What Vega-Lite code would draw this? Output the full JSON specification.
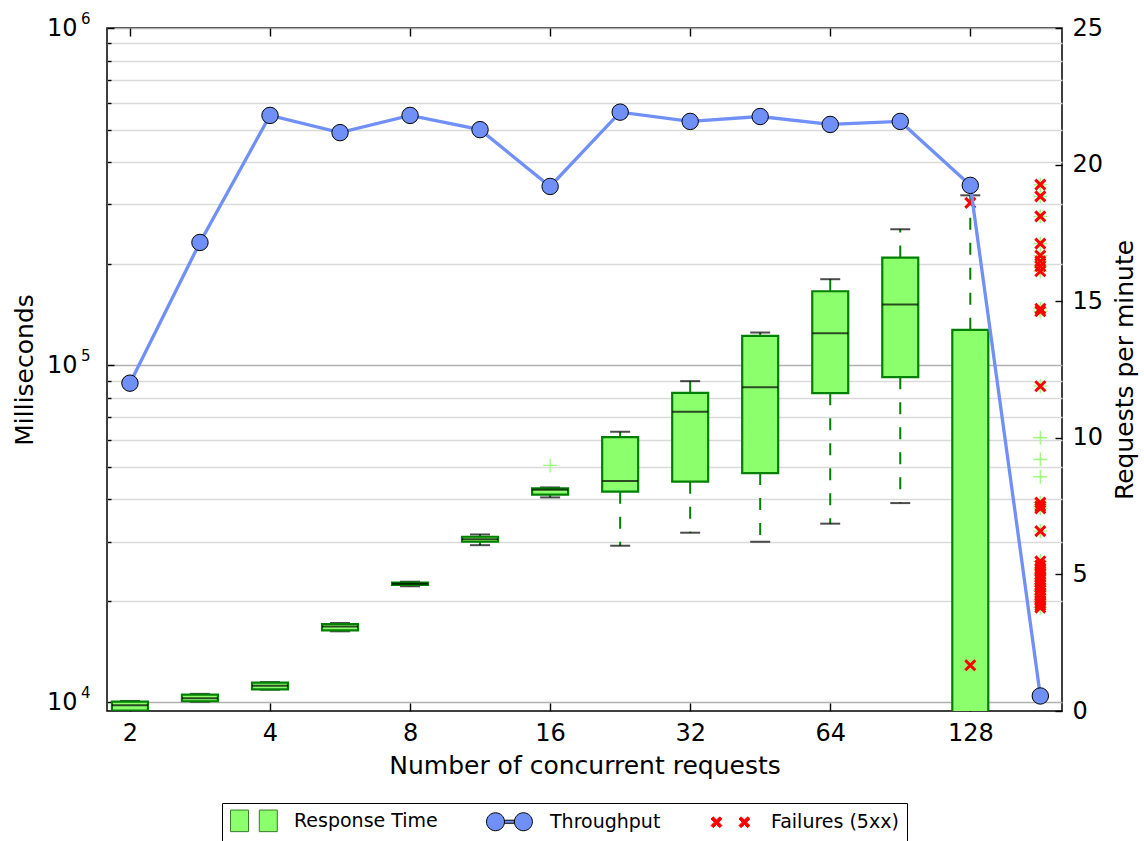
{
  "$schema": "https://vega.github.io/schema/vega-lite/v6.json",
  "width": 955,
  "height": 683,
  "autosize": {"type": "none"},
  "padding": {"left": 107, "top": 28, "right": 82, "bottom": 130},
  "config": {
    "font": "DejaVu Sans",
    "view": {"stroke": "black", "strokeWidth": 1.5},
    "axis": {"domain": false, "labelColor": "black", "titleColor": "black", "titleFontWeight": "normal", "tickColor": "black", "tickWidth": 1.4, "labelFontSize": 24, "titleFontSize": 25, "labelFlush": false, "labelOverlap": false}
  },
  "datasets": {
    "boxes": [
      {"n": 2, "lo": 9300, "q1": 9450, "med": 9800, "q3": 10050, "hi": 10100},
      {"n": 2.828, "lo": 10050, "q1": 10080, "med": 10290, "q3": 10550, "hi": 10600},
      {"n": 4, "lo": 10910, "q1": 10935, "med": 11214, "q3": 11446, "hi": 11490},
      {"n": 5.657, "lo": 16250, "q1": 16360, "med": 16779, "q3": 17079, "hi": 17200},
      {"n": 8, "lo": 22100, "q1": 22320, "med": 22495, "q3": 22650, "hi": 22800},
      {"n": 11.31, "lo": 29260, "q1": 29950, "med": 30490, "q3": 30990, "hi": 31480},
      {"n": 16, "lo": 40540, "q1": 41300, "med": 42700, "q3": 43110, "hi": 43400},
      {"n": 22.63, "lo": 29150, "q1": 42150, "med": 45320, "q3": 61180, "hi": 63480},
      {"n": 32, "lo": 31860, "q1": 45130, "med": 72770, "q3": 82830, "hi": 89680},
      {"n": 45.25, "lo": 29950, "q1": 47870, "med": 86060, "q3": 122200, "hi": 125000},
      {"n": 64, "lo": 33890, "q1": 82600, "med": 124400, "q3": 165700, "hi": 179900},
      {"n": 90.51, "lo": 39000, "q1": 92130, "med": 151300, "q3": 208500, "hi": 253000},
      {"n": 128, "lo": 3000, "q1": 5000, "med": 8000, "q3": 127300, "hi": 319000}
    ],
    "outliers": [
      {"n": 16, "ms": 50430},
      {"n": 181.02, "ms": 343200}, {"n": 181.02, "ms": 316800}, {"n": 181.02, "ms": 276400},
      {"n": 181.02, "ms": 229400}, {"n": 181.02, "ms": 211400}, {"n": 181.02, "ms": 203300},
      {"n": 181.02, "ms": 196500}, {"n": 181.02, "ms": 190000}, {"n": 181.02, "ms": 146980},
      {"n": 181.02, "ms": 144500}, {"n": 181.02, "ms": 86650}, {"n": 181.02, "ms": 60930},
      {"n": 181.02, "ms": 52530}, {"n": 181.02, "ms": 46680}, {"n": 181.02, "ms": 39110},
      {"n": 181.02, "ms": 38210}, {"n": 181.02, "ms": 37620}, {"n": 181.02, "ms": 32210},
      {"n": 181.02, "ms": 26200}, {"n": 181.02, "ms": 25000}, {"n": 181.02, "ms": 24000},
      {"n": 181.02, "ms": 23100}, {"n": 181.02, "ms": 22300}, {"n": 181.02, "ms": 21500},
      {"n": 181.02, "ms": 20800}, {"n": 181.02, "ms": 20000}, {"n": 181.02, "ms": 19100}
    ],
    "failures": [
      {"n": 128, "ms": 303000}, {"n": 128, "ms": 12890},
      {"n": 181.02, "ms": 343200}, {"n": 181.02, "ms": 316800}, {"n": 181.02, "ms": 276400},
      {"n": 181.02, "ms": 229400}, {"n": 181.02, "ms": 211400}, {"n": 181.02, "ms": 203300},
      {"n": 181.02, "ms": 196500}, {"n": 181.02, "ms": 190000}, {"n": 181.02, "ms": 146980},
      {"n": 181.02, "ms": 144500}, {"n": 181.02, "ms": 86650}, {"n": 181.02, "ms": 39110},
      {"n": 181.02, "ms": 38210}, {"n": 181.02, "ms": 37620}, {"n": 181.02, "ms": 32210},
      {"n": 181.02, "ms": 26200}, {"n": 181.02, "ms": 25500}, {"n": 181.02, "ms": 25000},
      {"n": 181.02, "ms": 24500}, {"n": 181.02, "ms": 24000}, {"n": 181.02, "ms": 23500},
      {"n": 181.02, "ms": 23100}, {"n": 181.02, "ms": 22700}, {"n": 181.02, "ms": 22300},
      {"n": 181.02, "ms": 21900}, {"n": 181.02, "ms": 21500}, {"n": 181.02, "ms": 21100},
      {"n": 181.02, "ms": 20800}, {"n": 181.02, "ms": 20400}, {"n": 181.02, "ms": 20000},
      {"n": 181.02, "ms": 19700}, {"n": 181.02, "ms": 19400}, {"n": 181.02, "ms": 19100}
    ],
    "throughput": [
      {"n": 2, "rpm": 12.0}, {"n": 2.828, "rpm": 17.15}, {"n": 4, "rpm": 21.8},
      {"n": 5.657, "rpm": 21.17}, {"n": 8, "rpm": 21.8}, {"n": 11.31, "rpm": 21.28},
      {"n": 16, "rpm": 19.2}, {"n": 22.63, "rpm": 21.92}, {"n": 32, "rpm": 21.58},
      {"n": 45.25, "rpm": 21.76}, {"n": 64, "rpm": 21.47}, {"n": 90.51, "rpm": 21.58},
      {"n": 128, "rpm": 19.24}, {"n": 181.02, "rpm": 0.55}
    ]
  },
  "layer": [
    {
      "resolve": {"axis": {"y": "independent", "x": "independent"}},
      "layer": [
        {
          "data": {"name": "boxes"},
          "mark": {"type": "rule", "color": "#008000", "strokeWidth": 2, "strokeDash": [12, 13], "clip": true},
          "encoding": {
            "x": {"field": "n", "type": "quantitative",
              "scale": {"type": "log", "base": 2, "domain": [1.83, 196.6], "nice": false},
              "axis": {"orient": "bottom", "values": [2, 4, 8, 16, 32, 64, 128], "grid": false, "ticks": false, "tickSize": 0, "labelPadding": 10, "title": "Number of concurrent requests", "titlePadding": 8}
            },
            "y": {"field": "q1", "type": "quantitative",
              "scale": {"type": "log", "domain": [9430, 1000000], "nice": false},
              "axis": {"orient": "left", "title": null, "labels": false, "ticks": false,
                "values": [20000, 30000, 40000, 50000, 60000, 70000, 80000, 90000, 200000, 300000, 400000, 500000, 600000, 700000, 800000, 900000],
                "grid": true, "gridWidth": 1.3, "gridColor": "#dadada"
              }
            },
            "y2": {"field": "lo"}
          }
        },
        {
          "data": {"name": "boxes"},
          "mark": {"type": "rule", "color": "#008000", "strokeWidth": 2, "strokeDash": [12, 13], "clip": true},
          "encoding": {
            "x": {"field": "n", "type": "quantitative",
              "axis": {"orient": "bottom", "values": [2, 4, 8, 16, 32, 64, 128], "grid": false, "labels": false, "title": null, "tickSize": 8, "offset": -8}
            },
            "y": {"field": "q3", "type": "quantitative",
              "axis": {"orient": "left", "title": "Milliseconds", "titlePadding": 9, "ticks": false, "tickSize": 0, "labelPadding": 30,
                "values": [10000, 100000, 1000000],
                "labelExpr": "'10'",
                "grid": true, "gridWidth": 1.3, "gridColor": "#b0b0b0"
              }
            },
            "y2": {"field": "hi"}
          }
        },
        {
          "data": {"name": "boxes"},
          "mark": {"type": "tick", "orient": "horizontal", "color": "black", "size": 20, "thickness": 2, "clip": true},
          "encoding": {
            "x": {"field": "n", "type": "quantitative", "axis": null},
            "y": {"field": "lo", "type": "quantitative",
            "axis": {"orient": "left", "title": null, "ticks": false, "tickSize": 0, "grid": false, "labelPadding": 17,
              "values": [10000, 100000, 1000000], "labelFontSize": 15, "labelOffset": -10,
              "labelExpr": "datum.value == 10000 ? '4' : datum.value == 100000 ? '5' : '6'"}}}
        },
        {
          "data": {"name": "boxes"},
          "mark": {"type": "tick", "orient": "horizontal", "color": "black", "size": 20, "thickness": 2, "clip": true},
          "encoding": {
            "x": {"field": "n", "type": "quantitative", "axis": null},
            "y": {"field": "hi", "type": "quantitative",
            "axis": {"orient": "left", "title": null, "labels": false, "grid": false, "tickSize": 7, "offset": -7,
              "values": [10000, 100000, 1000000]}}}
        },
        {
          "data": {"name": "boxes"},
          "mark": {"type": "bar", "width": 36, "fill": "#8cff6c", "stroke": "#008000", "strokeWidth": 2.2, "clip": true},
          "encoding": {
            "x": {"field": "n", "type": "quantitative", "axis": null},
            "y": {"field": "q1", "type": "quantitative",
              "axis": {"orient": "left", "title": null, "labels": false, "grid": false, "tickSize": 4, "offset": -4,
                "values": [20000, 30000, 40000, 50000, 60000, 70000, 80000, 90000, 200000, 300000, 400000, 500000, 600000, 700000, 800000, 900000]}},
            "y2": {"field": "q3"}
          }
        },
        {
          "data": {"name": "boxes"},
          "mark": {"type": "tick", "orient": "horizontal", "color": "black", "size": 36, "thickness": 2, "clip": true},
          "encoding": {
            "x": {"field": "n", "type": "quantitative", "axis": null},
            "y": {"field": "med", "type": "quantitative", "axis": null}}
        },
        {
          "data": {"name": "outliers"},
          "mark": {"type": "point", "shape": "M-1,0L1,0M0,-1L0,1", "filled": false, "stroke": "#99ff7a", "strokeWidth": 1.3, "size": 196, "opacity": 1, "clip": true},
          "encoding": {
            "x": {"field": "n", "type": "quantitative", "axis": null},
            "y": {"field": "ms", "type": "quantitative", "axis": null}}
        },
        {
          "data": {"name": "failures"},
          "mark": {"type": "point", "shape": "M-1,-1L1,1M1,-1L-1,1", "filled": false, "stroke": "red", "strokeWidth": 3, "size": 100, "opacity": 1, "clip": true},
          "encoding": {
            "x": {"field": "n", "type": "quantitative", "axis": null},
            "y": {"field": "ms", "type": "quantitative", "axis": null}}
        }
      ]
    },
    {
      "data": {"name": "throughput"},
      "resolve": {"axis": {"y": "independent"}},
      "encoding": {
        "x": {"field": "n", "type": "quantitative",
          "scale": {"type": "log", "base": 2, "domain": [1.83, 196.6], "nice": false},
          "axis": {"orient": "top", "values": [2, 4, 8, 16, 32, 64, 128], "grid": false, "labels": false, "title": null, "tickSize": 8, "offset": -8}
        }
      },
      "layer": [
        {"mark": {"type": "line", "color": "#7090f8", "strokeWidth": 3.3, "clip": true},
          "encoding": {
            "y": {"field": "rpm", "type": "quantitative",
              "scale": {"domain": [0, 25], "nice": false, "zero": false},
              "axis": {"orient": "right", "values": [0, 5, 10, 15, 20, 25], "grid": false, "ticks": false, "tickSize": 0, "labelPadding": 10, "title": "Requests per minute", "titleAngle": -90, "titleBaseline": "top", "titlePadding": 10}
            }
          }
        },
        {"mark": {"type": "point", "filled": true, "fill": "#7090f8", "stroke": "black", "strokeWidth": 1, "size": 270, "opacity": 1, "clip": false},
          "encoding": {
            "y": {"field": "rpm", "type": "quantitative",
              "axis": {"orient": "right", "values": [0, 5, 10, 15, 20, 25], "grid": false, "labels": false, "title": null, "tickSize": 7, "offset": -7}
            }
          }
        },
        {
          "mark": {"type": "point", "filled": true, "opacity": 0, "size": 324},
          "encoding": {
            "y": {"field": "rpm", "type": "quantitative", "axis": null},
            "fill": {"datum": "Failures (5xx)",
              "scale": {"domain": ["Response Time", "Throughput", "Failures (5xx)"], "range": ["#8cff6c", "#7090f8", "red"]},
              "legend": {
                "orient": "none", "legendX": 115, "legendY": 775, "direction": "horizontal", "title": null,
                "strokeColor": "black", "fillColor": "white", "padding": 8,
                "labelFontSize": 19, "labelFont": "DejaVu Sans", "labelColor": "black", "labelOffset": 45, "columnPadding": 46,
                "symbolSize": 324, "symbolOpacity": 1, "symbolStrokeWidth": 1, "labelLimit": 400
              }
            },
            "stroke": {"datum": "Failures (5xx)",
              "scale": {"domain": ["Response Time", "Throughput", "Failures (5xx)"], "range": ["#3a7a2a", "black", "red"]},
              "legend": {
                "orient": "none", "legendX": 115, "legendY": 775, "direction": "horizontal", "title": null,
                "strokeColor": "black", "fillColor": "white", "padding": 8,
                "labelFontSize": 19, "labelFont": "DejaVu Sans", "labelColor": "black", "labelOffset": 45, "columnPadding": 46,
                "symbolSize": 324, "symbolOpacity": 1, "symbolStrokeWidth": 1, "labelLimit": 400
              }
            },
            "shape": {"datum": "Failures (5xx)",
              "scale": {"domain": ["Response Time", "Throughput", "Failures (5xx)"], "range": [
                "M-1,-1.2H1V1.2H-1Z M2.2,-1.2H4.2V1.2H2.2Z",
                "M-1,0A1,1 0 1,1 1,0A1,1 0 1,1 -1,0Z M1,-0.17H2.1V0.17H1Z M2.1,0A1,1 0 1,1 4.1,0A1,1 0 1,1 2.1,0Z",
                "M-0.6,-0.36L-0.36,-0.6L0,-0.24L0.36,-0.6L0.6,-0.36L0.24,0L0.6,0.36L0.36,0.6L0,0.24L-0.36,0.6L-0.6,0.36L-0.24,0Z M2.5,-0.36L2.74,-0.6L3.1,-0.24L3.46,-0.6L3.7,-0.36L3.34,0L3.7,0.36L3.46,0.6L3.1,0.24L2.74,0.6L2.5,0.36L2.86,0Z"
              ]},
              "legend": {
                "orient": "none", "legendX": 115, "legendY": 775, "direction": "horizontal", "title": null,
                "strokeColor": "black", "fillColor": "white", "padding": 8,
                "labelFontSize": 19, "labelFont": "DejaVu Sans", "labelColor": "black", "labelOffset": 45, "columnPadding": 46,
                "symbolSize": 324, "symbolOpacity": 1, "symbolStrokeWidth": 1, "labelLimit": 400
              }
            }
          }
        }
      ]
    }
  ],
  "resolve": {"scale": {"y": "independent"}}
}
